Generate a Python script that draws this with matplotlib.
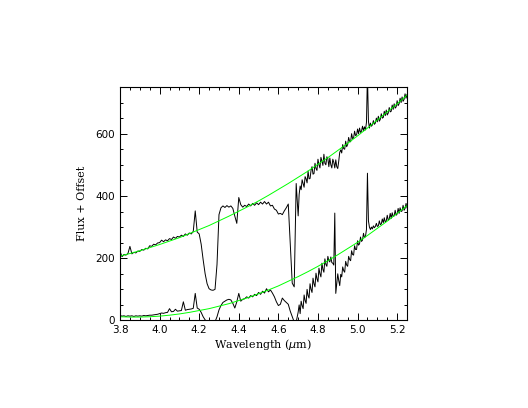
"""
Spettro con due offset e continuo (verde) sovrapposto.
"""

import matplotlib
matplotlib.use('Agg')
import matplotlib.pyplot as plt
from matplotlib.ticker import MultipleLocator
import numpy as np

# ---------------------------------------------------------------------------
# Dati
# ---------------------------------------------------------------------------
wave_lo = np.round(np.arange(3.80, 4.6951, 0.01), 3)    # 3.80 .. 4.69, passo 0.01
wave_hi = np.round(np.arange(4.70, 5.2501, 0.005), 3)   # 4.700 .. 5.250, passo 0.005

top_lo = [
    222, 205, 212, 210, 215, 238, 214, 219, 217, 223,   # 3.80-3.89
    222, 228, 226, 232, 230, 240, 238, 245, 243, 249,   # 3.90-3.99
    250, 258, 253, 259, 256, 263, 260, 268, 264, 270,   # 4.00-4.09
    268, 274, 270, 278, 274, 281, 278, 286, 352, 284,   # 4.10-4.19
    278, 245, 195, 150, 118, 102, 98, 97, 100, 180,     # 4.20-4.29
    340, 362, 368, 363, 369, 364, 368, 360, 335, 312,   # 4.30-4.39
    395, 372, 364, 370, 366, 374, 368, 376, 370, 378,   # 4.40-4.49
    372, 380, 374, 382, 374, 380, 368, 370, 358, 354,   # 4.50-4.59
    342, 344, 340, 352, 362, 374, 250, 120, 108, 440,   # 4.60-4.69
]
top_hi = [
    336, 405, 432, 420, 452, 440, 428, 462, 455, 442,   # 4.700-4.745
    480, 455, 456, 482, 494, 470, 472, 505, 488, 482,   # 4.750-4.795
    518, 500, 490, 524, 512, 498, 534, 505, 500, 526,   # 4.800-4.845
    520, 494, 522, 500, 490, 518, 508, 490, 516, 494,   # 4.850-4.895
    488, 512, 540, 548, 538, 565, 552, 550, 576, 558,   # 4.900-4.945
    565, 588, 575, 574, 600, 584, 586, 608, 594, 596,   # 4.950-4.995
    615, 600, 618, 604, 608, 624, 610, 622, 612, 636,   # 5.000-5.045
    790, 640, 618, 634, 624, 628, 642, 630, 634, 650,   # 5.050-5.095
    638, 656, 640, 646, 664, 650, 652, 672, 658, 676,   # 5.100-5.145
    660, 666, 684, 670, 672, 692, 678, 696, 682, 686,   # 5.150-5.195
    706, 690, 696, 714, 700, 718, 704, 710, 728, 714,   # 5.200-5.245
    726,                                                # 5.250
]

bot_lo = [
    16, 14, 15, 13, 15, 14, 15, 13, 15, 14,             # 3.80-3.89
    15, 14, 16, 15, 16, 17, 17, 18, 19, 20,             # 3.90-3.99
    22, 24, 23, 25, 26, 38, 28, 29, 36, 30,             # 4.00-4.09
    31, 32, 60, 33, 35, 36, 37, 39, 87, 40,             # 4.10-4.19
    36, 26, 12, 2, -5, -8, -8, -6, -4, 12,              # 4.20-4.29
    34, 48, 58, 62, 66, 68, 66, 55, 40, 60,             # 4.30-4.39
    87, 62, 68, 70, 76, 72, 80, 76, 84, 80,             # 4.40-4.49
    90, 84, 94, 88, 102, 92, 98, 88, 76, 60,            # 4.50-4.59
    48, 52, 72, 64, 58, 52, 30, 12, -5, -5,             # 4.60-4.69
]
bot_hi = [
    27, 50, 22, 62, 48, 38, 82, 64, 55, 100,            # 4.700-4.745
    80, 72, 118, 100, 90, 136, 118, 108, 152, 134,      # 4.750-4.795
    124, 168, 150, 140, 184, 164, 155, 198, 180, 174,   # 4.800-4.845
    206, 192, 188, 204, 186, 184, 178, 345, 87, 118,    # 4.850-4.895
    150, 128, 112, 148, 140, 172, 160, 155, 190, 178,   # 4.900-4.945
    174, 206, 196, 192, 224, 212, 210, 240, 228, 228,   # 4.950-4.995
    256, 242, 246, 268, 254, 258, 280, 266, 270, 292,   # 5.000-5.045
    473, 320, 300, 292, 300, 294, 304, 298, 302, 312,   # 5.050-5.095
    302, 304, 320, 308, 310, 326, 314, 330, 316, 320,   # 5.100-5.145
    338, 322, 326, 344, 328, 346, 334, 336, 354, 338,   # 5.150-5.195
    342, 360, 344, 362, 350, 352, 370, 354, 360, 376,   # 5.200-5.245
    362,                                                # 5.250
]

# continuo (verde), ogni 0.05 um
cont_wave = np.round(np.arange(3.80, 5.2501, 0.05), 2)
cont_top = [207, 215, 224, 234, 244, 255, 266, 279, 292, 305,
            320, 335, 351, 367, 384, 402, 421, 440, 460, 480,
            502, 523, 546, 569, 593, 618, 644, 670, 696, 724]
cont_bot = [12, 11, 11, 12, 14, 17, 21, 26, 32, 38,
            46, 54, 64, 74, 86, 98, 111, 126, 141, 157,
            174, 192, 211, 231, 251, 273, 296, 319, 344, 369]

wave = np.concatenate([wave_lo, wave_hi])
flux_top = np.concatenate([top_lo, top_hi])
flux_bot = np.concatenate([bot_lo, bot_hi])

# ---------------------------------------------------------------------------
# Plot
# ---------------------------------------------------------------------------
fig = plt.figure(figsize=(5.28, 4.08), dpi=100)
ax = fig.add_axes([0.2273, 0.2145, 0.5436, 0.5723])

ax.plot(wave, flux_top, color='black', lw=0.7)
ax.plot(wave, flux_bot, color='black', lw=0.7)
ax.plot(cont_wave, cont_top, color='#00ff00', lw=0.7)
ax.plot(cont_wave, cont_bot, color='#00ff00', lw=0.7)

ax.set_xlim(3.8, 5.25)
ax.set_ylim(0, 750)

ax.xaxis.set_major_locator(MultipleLocator(0.2))
ax.xaxis.set_minor_locator(MultipleLocator(0.05))
ax.yaxis.set_major_locator(MultipleLocator(200))
ax.yaxis.set_minor_locator(MultipleLocator(50))
ax.tick_params(which='both', direction='in', top=True, right=True,
               labelsize=7.5, width=0.7)
ax.tick_params(which='major', length=5)
ax.tick_params(which='minor', length=2.5)
for sp in ax.spines.values():
    sp.set_linewidth(0.8)

ax.set_xlabel(r'Wavelength ($\mu$m)', family='DejaVu Serif', fontsize=8, labelpad=1)
ax.set_ylabel('Flux + Offset', family='DejaVu Serif', fontsize=8, labelpad=6)

plt.savefig('out.png', dpi=100)
